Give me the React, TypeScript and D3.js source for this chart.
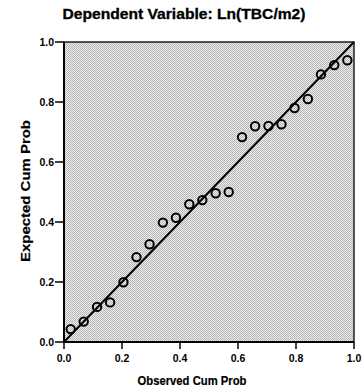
import * as d3 from "d3"

// observed cumulative probability (x) and expected cumulative probability (y)
const observed = [
  0.023, 0.068, 0.114, 0.159, 0.205, 0.25, 0.295, 0.341, 0.386, 0.432, 0.477,
  0.523, 0.568, 0.614, 0.659, 0.705, 0.75, 0.795, 0.841, 0.886, 0.932, 0.977,
]
const expected = [
  0.043, 0.068, 0.117, 0.132, 0.199, 0.283, 0.326, 0.398, 0.414, 0.459, 0.473,
  0.496, 0.5, 0.683, 0.719, 0.72, 0.726, 0.78, 0.81, 0.892, 0.923, 0.939,
]
const tickValues = [0, 0.2, 0.4, 0.6, 0.8, 1.0]

const W = 363
const H = 390
const M = { left: 64, right: 9, top: 42, bottom: 48 }
const FONT = "'Liberation Sans', Arial, sans-serif"

export default function App() {
  const x = d3.scaleLinear().domain([0, 1]).range([M.left, W - M.right])
  const y = d3.scaleLinear().domain([0, 1]).range([H - M.bottom, M.top])
  const pts = observed.map((o, i) => ({ o, e: expected[i] }))
  const diag = d3.line<number>().x((d) => x(d)).y((d) => y(d))([0, 1]) || ""

  return (
    <svg
      width={W}
      height={H}
      style={{ position: "absolute", left: 0, top: 0, background: "#fff" }}
      fontFamily={FONT}
    >
      <defs>
        <pattern id="dither" width="2" height="2" patternUnits="userSpaceOnUse">
          <rect width="2" height="2" fill="#eeeeee" />
          <rect width="1" height="1" fill="#b0b0b0" />
          <rect x="1" y="1" width="1" height="1" fill="#bababa" />
        </pattern>
      </defs>

      {/* title */}
      <text
        x={184}
        y={19}
        textAnchor="middle"
        fontSize={14}
        fontWeight="bold"
        textLength={243}
        lengthAdjust="spacingAndGlyphs"
        stroke="#000"
        strokeWidth={0.3}
      >
        Dependent Variable: Ln(TBC/m2)
      </text>

      {/* plot background */}
      <rect
        x={x(0)}
        y={y(1)}
        width={x(1) - x(0)}
        height={y(0) - y(1)}
        fill="url(#dither)"
        stroke="#000"
        strokeWidth={1.3}
      />

      {/* y axis */}
      <line x1={x(0)} x2={x(0)} y1={y(0)} y2={y(1)} stroke="#000" strokeWidth={2} />
      {tickValues.map((t) => (
        <g key={"y" + t}>
          <line x1={x(0) - 9} x2={x(0)} y1={y(t)} y2={y(t)} stroke="#000" strokeWidth={1.5} />
          <text
            x={x(0) - 10}
            y={y(t)}
            dy="0.35em"
            textAnchor="end"
            fontSize={10.5}
            fontWeight="bold"
          >
            {t.toFixed(1)}
          </text>
        </g>
      ))}

      {/* x axis */}
      <line x1={x(0)} x2={x(1)} y1={y(0)} y2={y(0)} stroke="#000" strokeWidth={2} />
      {tickValues.map((t) => (
        <g key={"x" + t}>
          <line x1={x(t)} x2={x(t)} y1={y(0)} y2={y(0) + 7} stroke="#000" strokeWidth={1.5} />
          <text x={x(t)} y={y(0) + 20} textAnchor="middle" fontSize={10.5} fontWeight="bold">
            {t.toFixed(1)}
          </text>
        </g>
      ))}

      {/* reference line */}
      <path d={diag} stroke="#000" strokeWidth={2} fill="none" />

      {/* points */}
      {pts.map((p, i) => (
        <circle
          key={i}
          cx={x(p.o)}
          cy={y(p.e)}
          r={4.2}
          fill="none"
          stroke="#000"
          strokeWidth={2}
        />
      ))}

      {/* axis titles */}
      <text
        x={192}
        y={385}
        textAnchor="middle"
        fontSize={13}
        fontWeight="bold"
        textLength={109}
        lengthAdjust="spacingAndGlyphs"
        stroke="#000"
        strokeWidth={0.2}
      >
        Observed Cum Prob
      </text>
      <text
        transform={`translate(30,191) rotate(-90)`}
        textAnchor="middle"
        fontSize={13}
        fontWeight="bold"
        textLength={142}
        lengthAdjust="spacingAndGlyphs"
        stroke="#000"
        strokeWidth={0.2}
      >
        Expected Cum Prob
      </text>
    </svg>
  )
}
